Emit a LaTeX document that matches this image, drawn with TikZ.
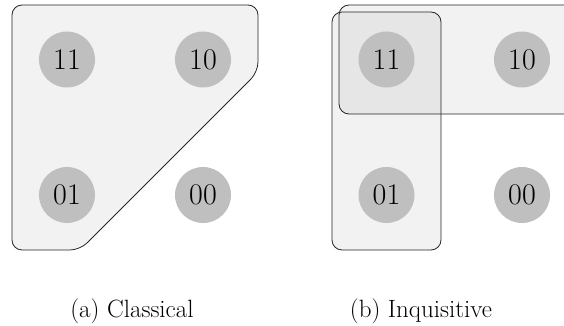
\documentclass[tikz,border=0pt]{standalone}
\begin{document}
\begin{tikzpicture}[x=1pt,y=-1pt,
  state/.style={circle,fill=black!25,minimum size=56pt,inner sep=0pt,font=\fontsize{30}{30}\selectfont},
  region/.style={fill=black,fill opacity=0.05,draw=black!85,line width=0.8pt,rounded corners=10pt},
  caption/.style={font=\fontsize{25}{30}\selectfont,anchor=base}]
\useasboundingbox (0,0) rectangle (564,326);
% (a) Classical
\draw[region] (12,5) -- (258,5) -- (258,72) -- (80,250) -- (12,250) -- cycle;
\node[state] (a11) at (67,59.5) {11};
\node[state] (a10) at (203,59.5) {10};
\node[state] (a01) at (67,195) {01};
\node[state] (a00) at (203,195) {00};
\node[caption] (capa) at (132,317) {(a) Classical};
% (b) Inquisitive
\begin{scope}
\clip (0,0) rectangle (564,326);
\draw[region] (339,5) rectangle (600,114);
\end{scope}
\draw[region] (332,12) rectangle (441,250);
\node[state] (b11) at (386.5,59.5) {11};
\node[state] (b10) at (522,59.5) {10};
\node[state] (b01) at (386.5,195) {01};
\node[state] (b00) at (522,195) {00};
\node[caption] (capb) at (421,317) {(b) Inquisitive};
\end{tikzpicture}
\end{document}
